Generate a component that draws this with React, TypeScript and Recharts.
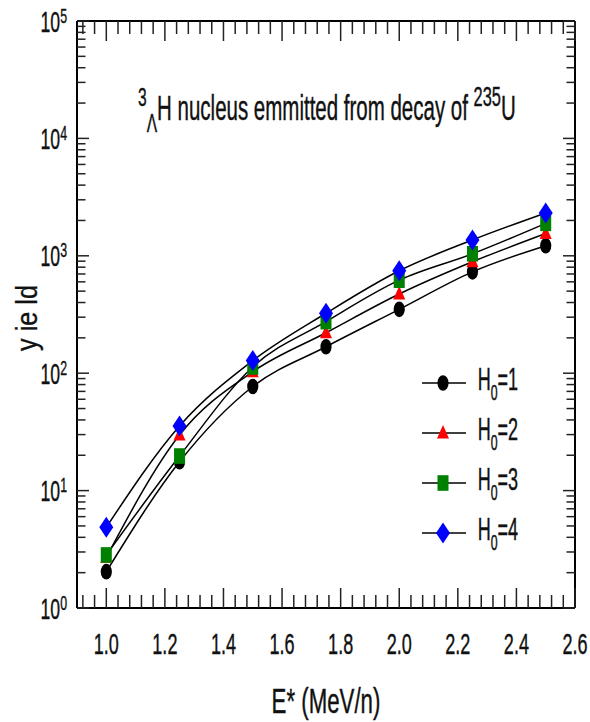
import React from 'react';
import { LineChart, Line, XAxis, YAxis, Legend, Customized } from 'recharts';

// ---------- data ----------
const E_VALUES = [1.0, 1.25, 1.5, 1.75, 2.0, 2.25, 2.5];
const YIELD_H1 = [2.04, 17.6, 77, 168, 350, 730, 1220];
const YIELD_H2 = [2.7, 29.8, 103, 221, 473, 890, 1550];
const YIELD_H3 = [2.83, 19.7, 113, 275, 620, 1040, 1890];
const YIELD_H4 = [4.87, 35.5, 128, 324, 746, 1365, 2316];

const SERIES_KEYS = ['h1', 'h2', 'h3', 'h4'];
const SERIES_NAMES = ['H0=1', 'H0=2', 'H0=3', 'H0=4'];
const SERIES_LEGEND_VALUES = ['1', '2', '3', '4'];
const SERIES_SHAPES = ['circle', 'triangle', 'square', 'diamond'];
const SERIES_COLORS = ['#000000', '#ff0000', '#008000', '#0000ff'];

const X_MAJOR_TICKS = [1.0, 1.2, 1.4, 1.6, 1.8, 2.0, 2.2, 2.4, 2.6];
const X_MAJOR_LABELS = ['1.0', '1.2', '1.4', '1.6', '1.8', '2.0', '2.2', '2.4', '2.6'];
const X_MINOR_STEP = 0.04;
const X_DOMAIN = [0.9, 2.6];

const Y_DECADES = [1, 10, 100, 1000, 10000, 100000];
const Y_EXPONENT_LABELS = ['0', '1', '2', '3', '4', '5'];
const Y_DOMAIN = [1, 100000];

const TITLE_PARTS = { pre: '3', sub: 'Λ', main: 'H nucleus emmitted from decay of ', sup: '235', end: 'U' };
const X_LABEL = 'E* (MeV/n)';
const Y_LABEL = 'y ie ld';

const data = E_VALUES.map((e, i) => ({
  E: e,
  h1: YIELD_H1[i],
  h2: YIELD_H2[i],
  h3: YIELD_H3[i],
  h4: YIELD_H4[i],
}));

const xTicks: number[] = [];
for (let k = 0; ; k++) {
  const v = Math.round((0.92 + k * X_MINOR_STEP) * 100) / 100;
  if (v > X_DOMAIN[1] + 1e-9) break;
  xTicks.push(v);
}
const yTicks: number[] = [];
Y_DECADES.forEach((d, i) => {
  yTicks.push(d);
  if (i < Y_DECADES.length - 1) for (let m = 2; m <= 9; m++) yTicks.push(d * m);
});

const FONT = '"Liberation Sans", Arial, sans-serif';
const SX = 0.82;
const SY = 1.38;
const TICK_COLOR = '#222';
const TEXT_FILL = '#111';
const TEXT_STROKE = { stroke: '#111', strokeWidth: 0.3 };

const majorXIndex = (v: number) => X_MAJOR_TICKS.findIndex((m) => Math.abs(m - v) < 1e-6);
const decadeIndex = (v: number) => Y_DECADES.findIndex((d) => Math.abs(d - v) < 1e-6 * d);

// ---------- shapes ----------
function Marker({ kind, cx, cy, color }: any) {
  if (cx == null || cy == null) return null;
  switch (kind) {
    case 'circle':
      return <ellipse cx={cx} cy={cy} rx={5.6} ry={7.8} fill={color} />;
    case 'triangle':
      return <polygon points={`${cx},${cy - 8} ${cx + 6},${cy + 5.5} ${cx - 6},${cy + 5.5}`} fill={color} />;
    case 'square':
      return <rect x={cx - 5.5} y={cy - 7.8} width={11} height={15.6} fill={color} />;
    case 'diamond':
      return <polygon points={`${cx},${cy - 10.5} ${cx + 7},${cy} ${cx},${cy + 10.5} ${cx - 7},${cy}`} fill={color} />;
    default:
      return null;
  }
}

// ---------- ticks ----------
const makeXTick = (side: 'bottom' | 'top') => (props: any) => {
  const { x, y, payload } = props;
  const idx = majorXIndex(payload.value);
  const len = idx >= 0 ? 20 : 13;
  const dir = side === 'bottom' ? -1 : 1;
  return (
    <g>
      <line x1={x} x2={x} y1={y} y2={y + dir * len} stroke={TICK_COLOR} strokeWidth={1.5} />
      {side === 'bottom' && idx >= 0 && (
        <text
          transform={`translate(${x},${y + 46}) scale(${SX},${SY})`}
          fontSize={22}
          fontFamily={FONT}
          textAnchor="middle"
          fill={TEXT_FILL}
          {...TEXT_STROKE}
        >
          {X_MAJOR_LABELS[idx]}
        </text>
      )}
    </g>
  );
};

const makeYTick = (side: 'left' | 'right') => (props: any) => {
  const { x, y, payload } = props;
  const idx = decadeIndex(payload.value);
  const len = idx >= 0 ? 12 : 8.5;
  const dir = side === 'left' ? 1 : -1;
  return (
    <g>
      <line x1={x} x2={x + dir * len} y1={y} y2={y} stroke={TICK_COLOR} strokeWidth={1.5} />
      {side === 'left' && idx >= 0 && (
        <text
          transform={`translate(${x - 10},${y + 10.5}) scale(${SX},1.36)`}
          fontSize={21.5}
          fontFamily={FONT}
          textAnchor="end"
          fill={TEXT_FILL}
          {...TEXT_STROKE}
        >
          10
          <tspan fontSize={15} dy={-6.5}>
            {Y_EXPONENT_LABELS[idx]}
          </tspan>
        </text>
      )}
    </g>
  );
};

// ---------- texts ----------
function TitleText() {
  return (
    <g>
      <text
        transform={`translate(138,120) scale(${SX},${SY})`}
        fontSize={25}
        fontFamily={FONT}
        fill={TEXT_FILL}
        {...TEXT_STROKE}
      >
        <tspan fontSize={19} dy={-10}>
          {TITLE_PARTS.pre}
        </tspan>
        <tspan fontSize={19} dy={19}>
          {TITLE_PARTS.sub}
        </tspan>
        <tspan dy={-9}>{TITLE_PARTS.main}</tspan>
        <tspan fontSize={20} dy={-10}>
          {TITLE_PARTS.sup}
        </tspan>
        <tspan dy={10}>{TITLE_PARTS.end}</tspan>
      </text>
      <text
        transform={`translate(326,713) scale(0.89,1.4)`}
        fontSize={25}
        fontFamily={FONT}
        textAnchor="middle"
        fill={TEXT_FILL}
        {...TEXT_STROKE}
      >
        {X_LABEL}
      </text>
      <text
        transform={`translate(37,318) rotate(-90) scale(0.97,1.15)`}
        fontSize={26}
        fontFamily={FONT}
        textAnchor="middle"
        fill={TEXT_FILL}
        {...TEXT_STROKE}
      >
        {Y_LABEL}
      </text>
    </g>
  );
}

function LegendContent(props: any) {
  const payload = props.payload || [];
  return (
    <svg width={170} height={200} style={{ display: 'block', overflow: 'visible' }}>
      {payload.map((p: any, i: number) => {
        const k = SERIES_KEYS.indexOf(p.dataKey);
        const si = k >= 0 ? k : i;
        const cy = 23 + si * 50;
        return (
          <g key={si}>
            <line x1={7} x2={51} y1={cy} y2={cy} stroke="#000" strokeWidth={1.5} />
            <Marker kind={SERIES_SHAPES[si]} cx={28} cy={cy} color={SERIES_COLORS[si]} />
            <text
              transform={`translate(62.7,${cy + 7}) scale(${SX},1.42)`}
              fontSize={22}
              fontFamily={FONT}
              fill={TEXT_FILL}
              {...TEXT_STROKE}
            >
              H
              <tspan fontSize={15} dy={7}>
                0
              </tspan>
              <tspan dy={-7}>={SERIES_LEGEND_VALUES[si]}</tspan>
            </text>
          </g>
        );
      })}
    </svg>
  );
}

export default function App() {
  return (
    <div style={{ position: 'absolute', left: 0, top: 0, width: 590, height: 722, background: '#fff' }}>
      <LineChart width={590} height={722} data={data} margin={{ top: 0, right: 0, bottom: 0, left: 0 }}>
        <XAxis
          xAxisId="bottom"
          dataKey="E"
          type="number"
          domain={X_DOMAIN}
          allowDataOverflow
          ticks={xTicks}
          interval={0}
          height={114}
          tickSize={0}
          tickMargin={0}
          tickLine={false}
          axisLine={{ stroke: '#000', strokeWidth: 2 }}
          tick={makeXTick('bottom')}
        />
        <XAxis
          xAxisId="top"
          orientation="top"
          dataKey="E"
          type="number"
          domain={X_DOMAIN}
          allowDataOverflow
          ticks={xTicks}
          interval={0}
          height={21}
          tickSize={0}
          tickMargin={0}
          tickLine={false}
          axisLine={{ stroke: '#000', strokeWidth: 2 }}
          tick={makeXTick('top')}
        />
        <YAxis
          yAxisId="left"
          type="number"
          scale="log"
          domain={Y_DOMAIN}
          allowDataOverflow
          ticks={yTicks}
          interval={0}
          width={77}
          tickSize={0}
          tickMargin={0}
          tickLine={false}
          axisLine={{ stroke: '#000', strokeWidth: 2 }}
          tick={makeYTick('left')}
        />
        <YAxis
          yAxisId="right"
          orientation="right"
          type="number"
          scale="log"
          domain={Y_DOMAIN}
          allowDataOverflow
          ticks={yTicks}
          interval={0}
          width={15}
          tickSize={0}
          tickMargin={0}
          tickLine={false}
          axisLine={{ stroke: '#000', strokeWidth: 2 }}
          tick={makeYTick('right')}
        />
        {SERIES_KEYS.map((key, i) => (
          <Line
            key={key}
            xAxisId="bottom"
            yAxisId="left"
            type="monotone"
            dataKey={key}
            name={SERIES_NAMES[i]}
            stroke="#000"
            strokeWidth={1.5}
            isAnimationActive={false}
            activeDot={false}
            dot={(p: any) => <Marker key={`${key}-${p.index}`} kind={SERIES_SHAPES[i]} cx={p.cx} cy={p.cy} color={SERIES_COLORS[i]} />}
          />
        ))}
        <Legend
          layout="vertical"
          align="center"
          verticalAlign="middle"
          content={<LegendContent />}
          wrapperStyle={{ left: 415, top: 360, width: 170, height: 200 }}
        />
        <Customized component={<TitleText />} />
      </LineChart>
    </div>
  );
}
